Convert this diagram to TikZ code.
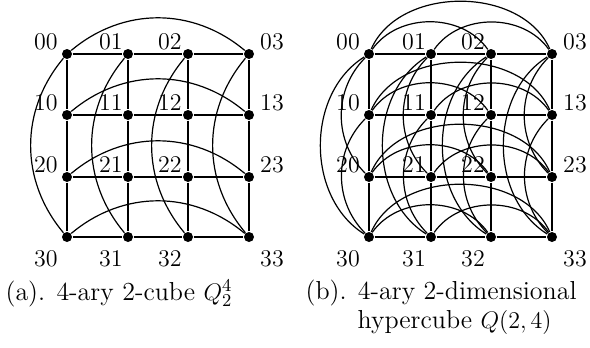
\documentclass[tikz,border=0pt]{standalone}
\usetikzlibrary{positioning}

\begin{document}
\begin{tikzpicture}[x=0.5pt, y=-0.5pt, semithick,
    vtx/.style={circle, fill, inner sep=0pt, minimum size=5pt},
    lbl/.style={inner sep=0pt, font=\fontsize{12}{14}\selectfont},
    captxt/.style={inner sep=0pt, font=\fontsize{13}{15}\selectfont}]
    \useasboundingbox (0,0) rectangle (590,348);
    % (a) torus grid
    \foreach \r/\y in {0/54,1/115,2/177,3/237}
      \foreach \c/\x in {0/67,1/128,2/188,3/249}
        \node[vtx] (a\r\c) at (\x,\y) {};
    \foreach \r in {0,...,3} {
      \draw (a\r0) -- (a\r1) -- (a\r2) -- (a\r3);
      \draw (a\r0) to[bend left=40] (a\r3);
    }
    \foreach \c in {0,...,3} {
      \draw (a0\c) -- (a1\c) -- (a2\c) -- (a3\c);
      \draw (a0\c) to[bend right=40] (a3\c);
    }
    % (b) generalized hypercube
    \foreach \r/\y in {0/54,1/115,2/177,3/237}
      \foreach \c/\x in {0/369,1/431,2/491,3/552}
        \node[vtx] (b\r\c) at (\x,\y) {};
    \foreach \r in {0,...,3} {
      \draw (b\r0) -- (b\r1) -- (b\r2) -- (b\r3);
      \draw (b\r0) to[bend left=55] (b\r2);
      \draw (b\r1) to[bend left=55] (b\r3);
      \draw (b\r0) to[bend left=66] (b\r3);
    }
    \foreach \c in {0,...,3} {
      \draw (b0\c) -- (b1\c) -- (b2\c) -- (b3\c);
      \draw (b0\c) to[bend right=45] (b2\c);
      \draw (b1\c) to[bend right=45] (b3\c);
      \draw (b0\c) to[bend right=58] (b3\c);
    }
    % vertex labels
    \foreach \g in {a,b}
      \foreach \r/\dy in {0/-12,1/-12,2/-12,3/22}
        \foreach \c/\dx in {0/-21,1/-17,2/-18,3/23}
          \node[lbl] (l\g\r\c) at ([shift={(\dx,\dy)}]\g\r\c) {\r\c};
    % captions
    \node[captxt, anchor=base west] (capa) at (5,300) {(a). 4-ary 2-cube $Q_2^4$};
    \node[captxt, anchor=base west] (capb) at (305,299) {(b). 4-ary 2-dimensional};
    \node[captxt, anchor=base west] (capbb) at (357,328) {hypercube $Q(2,4)$};
  \end{tikzpicture}
\end{document}
